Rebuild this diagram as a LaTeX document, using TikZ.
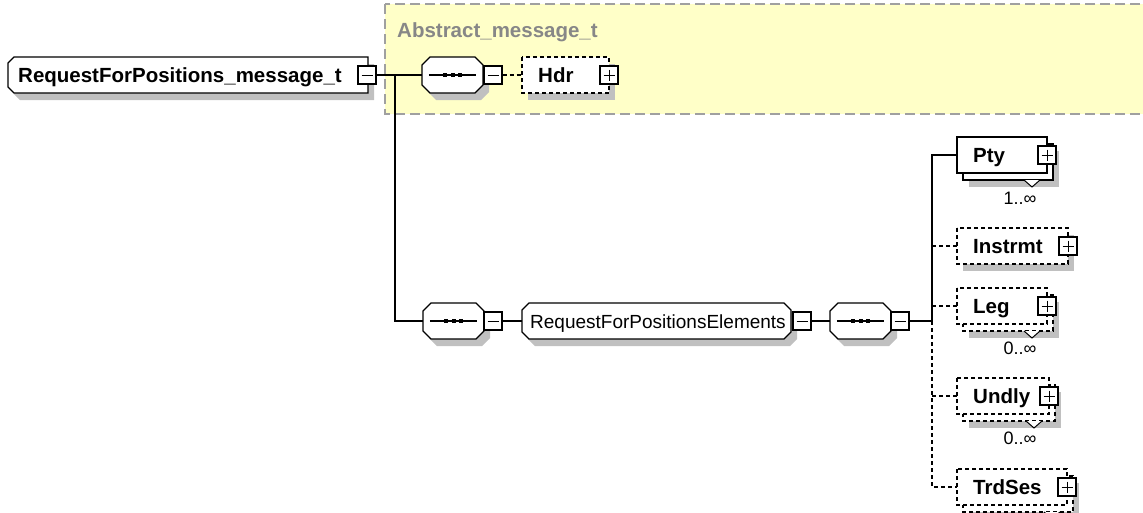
\documentclass[tikz,border=0pt]{standalone}
\usepackage{fontspec}
\setmainfont{Liberation Sans}
\usetikzlibrary{fit,calc}
\definecolor{shad}{RGB}{192,192,192}
\definecolor{abyel}{RGB}{255,255,200}
\definecolor{abgray}{RGB}{160,160,160}
\definecolor{abtext}{RGB}{135,135,135}
\tikzset{
  lbl/.style={font=\fontsize{20.5}{24}\selectfont\bfseries, anchor=base west, inner sep=0},
  lblr/.style={font=\fontsize{19}{23}\selectfont, anchor=base west, inner sep=0},
  occ/.style={font=\fontsize{18}{21}\selectfont, anchor=base, inner sep=0},
  ln/.style={line width=1.2pt, draw=black},
  dsh/.style={ln, dash pattern=on 4pt off 3pt},
  hit/.style={inner sep=0, draw=none},
}
% plus / minus box: name, cx, cy, sign (0 minus, 1 plus)
\newcommand\pmbox[4]{%
  \node[draw, line width=1.1pt, fill=white, minimum size=18pt, inner sep=0] (#1) at ({#2},{#3}) {};
  \draw[line width=1pt] ({#2-5.5},{#3}) -- ({#2+5.5},{#3});
  \ifnum#4=1 \draw[line width=1pt] ({#2},{#3-5.5}) -- ({#2},{#3+5.5});\fi
}
% octagon path: x1 y1 x2 y2 chamfer style
\newcommand\octshape[6]{%
  \path[#6] ({#1+#5},{#2}) -- ({#3-#5},{#2}) -- ({#3},{#2+#5}) -- ({#3},{#4-#5})
    -- ({#3-#5},{#4}) -- ({#1+#5},{#4}) -- ({#1},{#4-#5}) -- ({#1},{#2+#5}) -- cycle;}
% sequence compositor: name x1 y1 x2 y2
\newcommand\seqnode[5]{%
  \octshape{#2+6}{#3+7}{#4+6}{#5+7}{8}{fill=shad}
  \octshape{#2}{#3}{#4}{#5}{8}{fill=white,ln}
  \node[hit, fit={(#2,#3) (#4,#5)}] (#1) {};
  \draw[ln] ($(#1.west)+(7,0)$) -- ($(#1.east)+(-7,0)$);
  \foreach \d in {-7.5,0,7.5} \fill ($(#1.center)+(\d,0)$) ++(-2,-2.2) rectangle ++(4,4.4);
}
% element: name x1 y1 x2 y2 linestyle multi label
\newcommand\elem[8]{%
  \ifnum#7=1
    \fill[shad] ({#2+12},{#3+14}) rectangle ({#4+12},{#5+14});
    \draw[#6,fill=white] ({#2+6},{#3+7}) rectangle ({#4+6},{#5+7});
    \fill[white] ({#4-23},{#5+7}) -- ({#4-15},{#5+14}) -- ({#4-7},{#5+7}) -- cycle;
    \draw[line width=1pt] ({#4-23},{#5+7}) -- ({#4-15},{#5+14}) -- ({#4-7},{#5+7});
  \else
    \fill[shad] ({#2+6},{#3+7}) rectangle ({#4+6},{#5+7});
  \fi
  \draw[#6,fill=white] ({#2},{#3}) rectangle ({#4},{#5});
  \node[hit, fit={(#2,#3) (#4,#5)}] (#1) {};
  \node[lbl] (#1-t) at ({#2+16},{(#3+#5)/2+7}) {#8};
  \pmbox{#1-pm}{#4}{(#3+#5)/2}{1}
}
\begin{document}
\begin{tikzpicture}[x=1pt,y=-1pt]
\useasboundingbox (0,0) rectangle (1143,512);
\clip (0,0) rectangle (1143,512);
\fill[white] (0,0) rectangle (1143,512);

% abstract type area
\draw[draw=abgray, line width=1.3pt, dash pattern=on 10pt off 5pt, fill=abyel] (385,4) rectangle (1170,114);
\node[lbl, text=abtext] (abs) at (397,37) {Abstract\_message\_t};

% root node
\fill[shad] (20,64) -- (374,64) -- (374,100) -- (20,100) -- (14,94) -- (14,70) -- cycle;
\draw[ln, fill=white] (14,57) -- (368,57) -- (368,93) -- (14,93) -- (8,87) -- (8,63) -- cycle;
\node[hit, fit={(8,57) (368,93)}] (root) {};
\node[lbl] (root-t) at (18,82) {RequestForPositions\_message\_t};
\pmbox{rootpm}{367}{75}{0}

% top sequence and Hdr
\seqnode{seqa}{422}{57}{483}{93}
\pmbox{seqapm}{493}{75}{0}
\elem{hdr}{522}{57}{609}{93}{dsh}{0}{Hdr}

% bottom row
\seqnode{seqb}{423}{303}{484}{339}
\pmbox{seqbpm}{493}{321}{0}
\octshape{528}{310}{797}{346}{7}{fill=shad}
\octshape{522}{303}{791}{339}{7}{fill=white,ln}
\node[hit, fit={(522,303) (791,339)}] (grp) {};
\node[lblr] (grp-t) at (530,328) {RequestForPositionsElements};
\pmbox{grppm}{802}{321}{0}
\seqnode{seqc}{830}{303}{891}{339}
\pmbox{seqcpm}{900}{321}{0}

% children
\elem{pty}{957}{137}{1047}{173}{ln}{1}{Pty}
\elem{ins}{957}{228}{1068}{264}{dsh}{0}{Instrmt}
\elem{leg}{957}{288}{1047}{324}{dsh}{1}{Leg}
\elem{und}{957}{378}{1049}{414}{dsh}{1}{Undly}
\elem{trd}{957}{469}{1067}{505}{dsh}{1}{TrdSes}

\node[occ] (pty-o) at (1020,204) {1..∞};
\node[occ] (leg-o) at (1020,354) {0..∞};
\node[occ] (und-o) at (1020,444) {0..∞};

% connectors
\coordinate (ja) at (395,75);
\coordinate (jb) at (395,321);
\coordinate (jc) at (932,321);
\draw[ln] (rootpm.east) -- (seqa.west);
\draw[ln] (ja) -- (jb) -- (seqb.west);
\draw[dsh] (seqapm.east) -- (hdr.west);
\draw[ln] (seqbpm.east) -- (grp.west);
\draw[ln] (grppm.east) -- (seqc.west);
\draw[ln] (seqcpm.east) -- (jc);
\draw[ln] (jc) |- (pty.west);
\draw[dsh] (jc |- ins.west) -- (ins.west);
\draw[dsh] (jc |- leg.west) -- (leg.west);
\draw[dsh] (jc |- und.west) -- (und.west);
\draw[dsh] (jc) |- (trd.west);
\end{tikzpicture}
\end{document}
